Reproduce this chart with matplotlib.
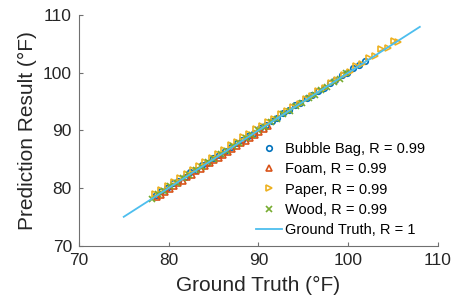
import numpy as np
import matplotlib as mpl
import matplotlib.pyplot as plt

# MATLAB default colours
colors = ['#0072BD', '#D95319', '#EDB120', '#77AC30', '#4DBEEE']

mpl.rcParams['font.family'] = 'Liberation Sans'
mpl.rcParams['axes.spines.right'] = False
mpl.rcParams['axes.spines.top'] = False
mpl.rcParams['xtick.direction'] = 'in'
mpl.rcParams['ytick.direction'] = 'in'

# Bubble Bag: ground truth vs prediction (°F)
bubble_gt = [78.6, 79.2, 79.8, 80.5, 81.1, 81.8, 82.4, 83.0, 83.7, 84.3, 85.0, 85.6,
             86.3, 86.9, 87.6, 88.2, 88.9, 89.5, 90.2, 90.8, 91.5, 92.1, 92.8, 93.4,
             94.1, 94.7, 95.4, 96.0, 96.7, 97.3, 98.0, 98.6, 99.3, 99.9, 100.6, 101.2, 101.9]
bubble_pred = [78.8, 79.5, 80.0, 80.8, 81.2, 82.0, 82.7, 83.1, 84.0, 84.4, 85.3, 85.7,
               86.5, 87.1, 87.8, 88.3, 89.1, 89.6, 90.4, 90.9, 91.7, 92.2, 93.0, 93.5,
               94.4, 94.8, 95.6, 96.1, 96.9, 97.3, 98.3, 98.7, 99.6, 100.0, 100.9, 101.3, 102.1]

# Foam
foam_gt = [78.7, 79.1, 79.6, 80.1, 80.6, 81.1, 81.6, 82.1, 82.6, 83.1, 83.6, 84.1,
           84.6, 85.1, 85.6, 86.1, 86.6, 87.1, 87.6, 88.1, 88.6, 89.1, 89.6, 90.1, 90.6, 91.1]
foam_pred = [78.5, 78.8, 79.3, 79.9, 80.3, 80.9, 81.3, 81.9, 82.3, 82.9, 83.3, 83.9,
             84.3, 84.9, 85.3, 85.8, 86.3, 86.8, 87.3, 87.8, 88.2, 88.7, 89.2, 89.7, 90.2, 90.8]

# Paper
paper_gt = [78.5, 79.2, 79.9, 80.6, 81.3, 82.0, 82.7, 83.4, 84.1, 84.8, 85.5, 86.2,
            86.9, 87.6, 88.3, 89.0, 89.7, 90.4, 91.1, 91.8, 92.5, 93.2, 93.9, 94.6,
            95.3, 96.0, 96.7, 97.4, 98.1, 98.8, 99.5, 100.2, 100.9, 101.6, 102.3, 103.0,
            103.7, 104.4, 105.1, 105.6]
paper_pred = [78.9, 79.6, 80.4, 81.0, 81.8, 82.4, 83.2, 83.8, 84.6, 85.2, 86.0, 86.6,
              87.4, 88.0, 88.8, 89.4, 90.2, 90.7, 91.4, 92.0, 92.8, 93.3, 94.1, 94.6,
              95.5, 96.0, 96.8, 97.3, 98.2, 98.7, 99.7, 100.1, 101.2, 101.5, 102.6, 102.9,
              104.1, 104.3, 105.6, 105.4]

# Wood
wood_gt = [78.2, 78.8, 79.5, 80.2, 80.9, 81.6, 82.3, 83.0, 83.7, 84.4, 85.1, 85.8,
           86.5, 87.2, 87.9, 88.6, 89.3, 90.0, 90.7, 91.4, 92.1, 92.8, 93.5, 94.2,
           94.9, 95.6, 96.3, 97.0, 97.7, 98.4, 99.1, 99.8]
wood_pred = [78.1, 78.9, 79.4, 80.3, 80.8, 81.7, 82.2, 83.1, 83.6, 84.5, 85.0, 85.9,
             86.4, 87.3, 87.8, 88.7, 89.2, 90.1, 90.6, 91.5, 92.0, 92.9, 93.4, 94.3,
             94.8, 95.7, 96.2, 97.1, 97.6, 98.5, 99.0, 99.9]

gt_line = [75, 108]

fig, ax = plt.subplots(figsize=(4.56, 3.07), dpi=100)
ms = 4
ax.plot(bubble_gt, bubble_pred, 'o', color=colors[0], mfc='none', ms=ms, mew=1.2,
        label='Bubble Bag, R = 0.99')
ax.plot(foam_gt, foam_pred, '^', color=colors[1], mfc='none', ms=ms, mew=1.2,
        label='Foam, R = 0.99')
ax.plot(paper_gt, paper_pred, '>', color=colors[2], mfc='none', ms=ms, mew=1.2,
        label='Paper, R = 0.99')
ax.plot(wood_gt, wood_pred, 'x', color=colors[3], ms=ms, mew=1.2,
        label='Wood, R = 0.99')
ax.plot(gt_line, gt_line, '-', color=colors[4], lw=1.3, label='Ground Truth, R = 1')

ax.set_xlim(70, 110)
ax.set_ylim(70, 110)
ax.set_xticks([70, 80, 90, 100, 110])
ax.set_yticks([70, 80, 90, 100, 110])
ax.tick_params(labelsize=12.5, length=3, pad=5, color='#707070', labelcolor='#262626')
for s in ax.spines.values():
    s.set_color('#707070')
ax.set_xlabel('Ground Truth (°F)', fontsize=15, color='#262626', labelpad=6)
ax.set_ylabel('Prediction Result (°F)', fontsize=15, color='#262626', labelpad=4)
ax.legend(loc='lower right', frameon=False, fontsize=10.5, handlelength=1.8,
          handletextpad=0.2, labelspacing=0.42, borderaxespad=0.2,
          bbox_to_anchor=(0.99, 0.0))

fig.subplots_adjust(left=0.173, right=0.96, bottom=0.2, top=0.95)
fig.savefig('out.png', dpi=100)
